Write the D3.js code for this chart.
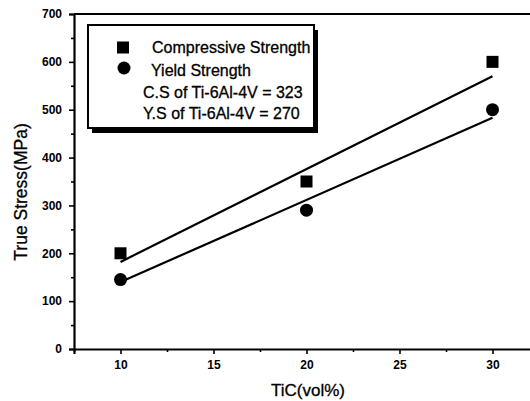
<!DOCTYPE html>
<html>
<head>
<meta charset="utf-8">
<script src="https://cdn.jsdelivr.net/npm/d3@7"></script>
<style>
  html, body { margin: 0; padding: 0; background: #fff; }
  svg { display: block; }
  text { font-family: "Liberation Sans", Arial, sans-serif; fill: #000; }
  .heavy { stroke: #000; stroke-width: 0.3px; }
</style>
</head>
<body>
<svg id="chart" width="530" height="401"></svg>
<script>
// TiC content (vol%) of the composites
const ticContent = [10, 20, 30];
// Measured strengths (MPa)
const compressiveStrength = [200, 350, 600];
const yieldStrength = [145, 290, 500];
// Linear trend lines: [TiC, stress] endpoints
const compressiveFit = [[10, 182], [30, 570]];
const yieldFit = [[10, 140], [30, 483]];
// Axis ticks
const xTicks = [10, 15, 20, 25, 30];
const xMinorTicks = [7.5, 12.5, 17.5, 22.5, 27.5];
const yTicks = [0, 100, 200, 300, 400, 500, 600, 700];
const yMinorTicks = [50, 150, 250, 350, 450, 550, 650];
// Legend text
const legendSeries = ["Compressive Strength", "Yield Strength"];
const legendNotes = ["C.S of Ti-6Al-4V = 323", "Y.S of Ti-6Al-4V = 270"];

const svg = d3.select("#chart");
const x = d3.scaleLinear().domain([7.5, 32.5]).range([74, 539]);
const y = d3.scaleLinear().domain([0, 700]).range([349, 14]);

// Top frame line
svg.append("line")
  .attr("x1", x(7.5)).attr("x2", 530)
  .attr("y1", y(700)).attr("y2", y(700))
  .attr("stroke", "#000").attr("stroke-width", 2);

// X axis
const xAxis = svg.append("g").attr("transform", `translate(0,${y(0)})`);
xAxis.call(d3.axisBottom(x).tickValues(xTicks).tickSize(5).tickPadding(6).tickFormat(d3.format("d")));
xAxis.append("g").call(d3.axisBottom(x).tickValues(xMinorTicks).tickSize(3).tickFormat(""))
  .select(".domain").remove();
xAxis.selectAll(".domain").attr("stroke-width", 2.2);
xAxis.selectAll(".tick line").attr("stroke-width", 1.6);
xAxis.selectAll(".tick text").style("font-size", "12px").style("font-weight", "bold")
  .style("font-family", "'Liberation Sans', Arial, sans-serif");

// Y axis
const yAxis = svg.append("g").attr("transform", `translate(${x(7.5)},0)`);
yAxis.call(d3.axisLeft(y).tickValues(yTicks).tickSize(5).tickPadding(7).tickFormat(d3.format("d")));
yAxis.append("g").call(d3.axisLeft(y).tickValues(yMinorTicks).tickSize(3).tickFormat(""))
  .select(".domain").remove();
yAxis.selectAll(".domain").attr("stroke-width", 2.2);
yAxis.selectAll(".tick line").attr("stroke-width", 1.6);
yAxis.selectAll(".tick text").style("font-size", "12px").style("font-weight", "bold")
  .style("font-family", "'Liberation Sans', Arial, sans-serif");

// Axis titles
svg.append("text")
  .attr("class", "heavy")
  .attr("transform", `translate(27,192) rotate(-90)`)
  .attr("text-anchor", "middle")
  .style("font-size", "17.5px")
  .text("True Stress(MPa)");
svg.append("text")
  .attr("class", "heavy")
  .attr("x", 308).attr("y", 396)
  .attr("text-anchor", "middle")
  .style("font-size", "17px")
  .text("TiC(vol%)");

// Trend lines
const line = d3.line().x(d => x(d[0])).y(d => y(d[1]));
[compressiveFit, yieldFit].forEach(pts => {
  svg.append("path").datum(pts).attr("d", line)
    .attr("fill", "none").attr("stroke", "#000").attr("stroke-width", 2.2);
});

// Data markers
const sq = 12;
svg.append("g").selectAll("rect")
  .data(ticContent.map((t, i) => [t, compressiveStrength[i]]))
  .join("rect")
  .attr("x", d => x(d[0]) - sq / 2).attr("y", d => y(d[1]) - sq / 2)
  .attr("width", sq).attr("height", sq).attr("fill", "#000");
svg.append("g").selectAll("circle")
  .data(ticContent.map((t, i) => [t, yieldStrength[i]]))
  .join("circle")
  .attr("cx", d => x(d[0])).attr("cy", d => y(d[1]))
  .attr("r", 6.5).attr("fill", "#000");

// Legend box with drop shadow
const lg = { x: 88, y: 25, w: 226, h: 103 };
svg.append("rect")
  .attr("x", lg.x + 4).attr("y", lg.y + 5).attr("width", lg.w).attr("height", lg.h)
  .attr("fill", "#000");
svg.append("rect")
  .attr("x", lg.x).attr("y", lg.y).attr("width", lg.w).attr("height", lg.h)
  .attr("fill", "#fff").attr("stroke", "#000").attr("stroke-width", 2);

const legend = svg.append("g");
legend.append("rect").attr("x", 123 - 6).attr("y", 47.5 - 6).attr("width", 12).attr("height", 12).attr("fill", "#000");
legend.append("circle").attr("cx", 124).attr("cy", 68).attr("r", 6.5).attr("fill", "#000");
legend.selectAll("text.series").data(legendSeries).join("text")
  .attr("class", "series heavy")
  .attr("x", (d, i) => i === 0 ? 152 : 151)
  .attr("y", (d, i) => 53 + i * 23)
  .style("font-size", "16px")
  .text(d => d);
legend.selectAll("text.note").data(legendNotes).join("text")
  .attr("class", "note heavy")
  .attr("x", 143)
  .attr("y", (d, i) => 98 + i * 21)
  .style("font-size", "16px")
  .text(d => d);
</script>
</body>
</html>
